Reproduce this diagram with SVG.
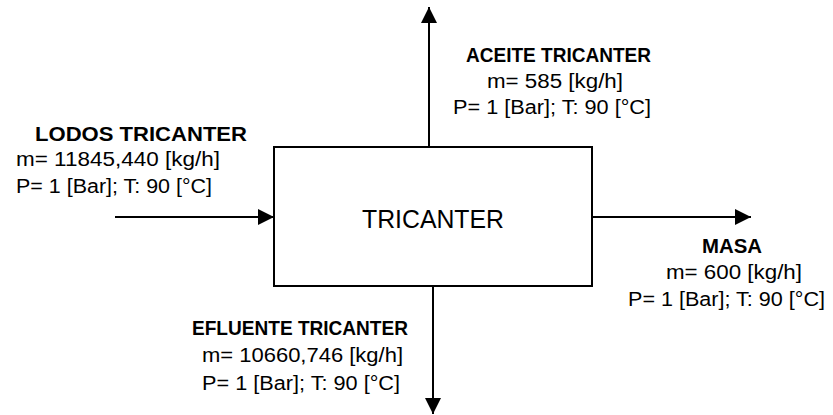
<svg xmlns="http://www.w3.org/2000/svg" width="833" height="415" viewBox="0 0 833 415">
<style>
  .t { font-family: "Liberation Sans", Arial, sans-serif; font-size: 20px; fill: #000; }
  .b { font-weight: bold; }
  .c { fill: none; stroke: #000; stroke-width: 2; }
</style>
<defs>
  <marker id="ah" markerUnits="userSpaceOnUse" markerWidth="17" markerHeight="16" refX="16" refY="8" orient="auto" overflow="visible">
    <path d="M0,0 L16,8 L0,16 Z" fill="#000"/>
  </marker>
</defs>
<rect width="833" height="415" fill="#fff"/>
<g id="connectors">
  <line class="c" x1="115" y1="217" x2="274" y2="217" marker-end="url(#ah)"/>
  <line class="c" x1="429" y1="147" x2="429" y2="7" marker-end="url(#ah)"/>
  <line class="c" x1="592" y1="217" x2="751" y2="217" marker-end="url(#ah)"/>
  <line class="c" x1="433" y1="286" x2="433" y2="414" marker-end="url(#ah)"/>
</g>
<g id="tricanter">
  <rect class="c" x="274" y="147" width="318" height="139"/>
  <text class="t" x="362" y="228" style="font-size:26px" textLength="142" lengthAdjust="spacingAndGlyphs">TRICANTER</text>
</g>
<g id="lodos">
  <text class="t b" x="35" y="141" textLength="212" lengthAdjust="spacingAndGlyphs">LODOS TRICANTER</text>
  <text class="t" x="16" y="166" textLength="204" lengthAdjust="spacingAndGlyphs">m= 11845,440 [kg/h]</text>
  <text class="t" x="16" y="193" textLength="196" lengthAdjust="spacingAndGlyphs">P= 1 [Bar]; T: 90 [°C]</text>
</g>
<g id="aceite">
  <text class="t b" x="466" y="62" textLength="185" lengthAdjust="spacingAndGlyphs">ACEITE TRICANTER</text>
  <text class="t" x="487" y="88" textLength="136" lengthAdjust="spacingAndGlyphs">m= 585 [kg/h]</text>
  <text class="t" x="453" y="114" textLength="198" lengthAdjust="spacingAndGlyphs">P= 1 [Bar]; T: 90 [°C]</text>
</g>
<g id="masa">
  <text class="t b" x="702" y="253" textLength="60" lengthAdjust="spacingAndGlyphs">MASA</text>
  <text class="t" x="666" y="279" textLength="136" lengthAdjust="spacingAndGlyphs">m= 600 [kg/h]</text>
  <text class="t" x="628" y="306" textLength="197" lengthAdjust="spacingAndGlyphs">P= 1 [Bar]; T: 90 [°C]</text>
</g>
<g id="efluente">
  <text class="t b" x="192" y="335" textLength="216" lengthAdjust="spacingAndGlyphs">EFLUENTE TRICANTER</text>
  <text class="t" x="202" y="362" textLength="201" lengthAdjust="spacingAndGlyphs">m= 10660,746 [kg/h]</text>
  <text class="t" x="202" y="390" textLength="198" lengthAdjust="spacingAndGlyphs">P= 1 [Bar]; T: 90 [°C]</text>
</g>
</svg>
